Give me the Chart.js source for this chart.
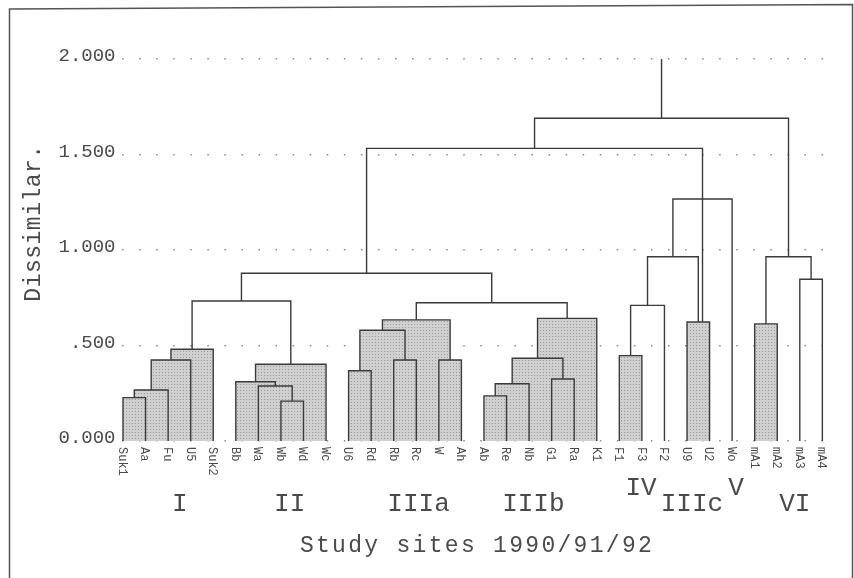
<!DOCTYPE html>
<html>
<head>
<meta charset="utf-8">
<script src="https://cdn.jsdelivr.net/npm/chart.js@4/dist/chart.umd.min.js"></script>
<style>
  html, body { margin: 0; padding: 0; background: #fff; }
  #wrap { width: 854px; height: 578px; position: relative; }
</style>
</head>
<body>
<div id="wrap"><canvas id="dendro"></canvas></div>
<script>
// study sites, left to right along the bottom
const leaves = ['Suk1', 'Aa', 'Fu', 'U5', 'Suk2', 'Bb', 'Wa', 'Wb', 'Wd', 'Wc',
  'U6', 'Rd', 'Rb', 'Rc', 'W', 'Ah', 'Ab', 'Re', 'Nb', 'G1', 'Ra', 'K1',
  'F1', 'F3', 'F2', 'U9', 'U2', 'Wo', 'mA1', 'mA2', 'mA3', 'mA4'];

// merges: ids below 32 are sites, 32 and up are earlier merges (32 + index)
const mergeA = [0, 32, 33, 34, 7, 6, 5, 38, 35, 10, 12, 14, 41, 44, 16, 46, 19, 47, 49, 45, 40, 22, 53, 25, 54, 56, 52, 28, 30, 59, 58];
const mergeB = [1, 2, 3, 4, 8, 36, 37, 9, 39, 11, 13, 15, 42, 43, 17, 18, 20, 48, 21, 50, 51, 23, 24, 26, 55, 27, 57, 29, 31, 60, 61];
const mergeHeight = [0.227, 0.267, 0.424, 0.480, 0.209, 0.288, 0.310, 0.402, 0.733,
  0.368, 0.424, 0.424, 0.580, 0.634, 0.236, 0.300, 0.325, 0.433, 0.642, 0.724, 0.878,
  0.447, 0.710, 0.623, 0.965, 1.267, 1.532, 0.613, 0.847, 0.965, 1.690];

const groupNames = ['I', 'II', 'IIIa', 'IIIb', 'IV', 'IIIc', 'V', 'VI'];
const yTicks = [0, 0.5, 1, 1.5, 2];
const yTickLabels = ['0.000', '.500', '1.000', '1.500', '2.000'];

const shadeBelow = 0.65;               // clusters joined under this level are shaded
const strayLeg = { merge: 26, downTo: 0.623 }; // the plotter ran this leg on down to the U9/U2 box

const ink = '#3a3a3a';
const textInk = '#4a4a4a';
const font = '"Liberation Mono", "DejaVu Sans Mono", monospace';

function halftone() {
  const c = document.createElement('canvas');
  c.width = 3; c.height = 3;
  const g = c.getContext('2d');
  g.fillStyle = '#d0d0d0';
  g.fillRect(0, 0, 3, 3);
  g.fillStyle = '#9a9a9a';
  g.fillRect(0, 0, 1, 1);
  return g.createPattern(c, 'repeat');
}
const shade = halftone();

// x position and height of every node
const pos = leaves.map((_, i) => i);
const lvl = leaves.map(() => 0);
mergeHeight.forEach((h, k) => {
  pos.push((pos[mergeA[k]] + pos[mergeB[k]]) / 2);
  lvl.push(h);
});

const fills = [];
const links = [];
mergeHeight.forEach((h, k) => {
  const a = mergeA[k], b = mergeB[k];
  const lowB = k === strayLeg.merge ? strayLeg.downTo : lvl[b];
  links.push({
    data: [{ x: pos[a], y: lvl[a] }, { x: pos[a], y: h }, { x: pos[b], y: h }, { x: pos[b], y: lowB }],
    borderColor: ink, borderWidth: 1.4, pointRadius: 0, fill: false, tension: 0
  });
  if (h < shadeBelow) {
    fills.push({
      data: [{ x: pos[a], y: 0 }, { x: pos[a], y: h }, { x: pos[b], y: h }, { x: pos[b], y: 0 }],
      borderWidth: 0, backgroundColor: shade, pointRadius: 0, fill: 'origin', tension: 0
    });
  }
});
// stub above the root
const root = pos.length - 1;
links.push({
  data: [{ x: pos[root], y: lvl[root] }, { x: pos[root], y: yTicks[yTicks.length - 1] }],
  borderColor: ink, borderWidth: 1.4, pointRadius: 0, fill: false
});

const annotate = {
  id: 'annotate',
  afterDraw(chart) {
    const { ctx, scales: { x, y } } = chart;
    const base = y.getPixelForValue(0);
    ctx.save();
    ctx.fillStyle = textInk;

    // site names, turned clockwise
    ctx.font = '12px ' + font;
    ctx.textAlign = 'left';
    ctx.textBaseline = 'middle';
    leaves.forEach((name, i) => {
      ctx.save();
      ctx.translate(x.getPixelForValue(i) - 1, base + 6);
      ctx.rotate(Math.PI / 2);
      ctx.fillText(name, 0, 0);
      ctx.restore();
    });

    // group labels
    const groupAt = [2.52, 7.39, 13.1, 18.19, 22.96, 25.22, 27.17, 29.78];
    const raised = [0, 0, 0, 0, 1, 0, 1, 0];
    ctx.font = '26px ' + font;
    ctx.textAlign = 'center';
    ctx.textBaseline = 'alphabetic';
    groupNames.forEach((g, i) => {
      ctx.fillText(g, x.getPixelForValue(groupAt[i]), base + (raised[i] ? 54 : 70));
    });

    // axis titles
    ctx.font = '23px ' + font;
    ctx.letterSpacing = '2.3px';
    ctx.fillText('Study sites 1990/91/92', 477, 552);
    ctx.letterSpacing = '0.5px';
    ctx.save();
    ctx.translate(40, 223);
    ctx.rotate(-Math.PI / 2);
    ctx.fillText('Dissimilar.', 0, 0);
    ctx.restore();
    ctx.letterSpacing = '0px';

    // page frame
    ctx.strokeStyle = '#555';
    ctx.lineWidth = 1.5;
    ctx.beginPath();
    ctx.moveTo(9.5, 578);
    ctx.lineTo(9.5, 9);
    ctx.lineTo(852.5, 4.5);
    ctx.lineTo(852.5, 578);
    ctx.stroke();
    ctx.restore();
  }
};

new Chart(document.getElementById('dendro'), {
  type: 'line',
  data: { datasets: [...links, ...fills] },
  options: {
    responsive: true,
    maintainAspectRatio: false,
    animation: false,
    events: [],
    layout: { padding: { left: 0, right: 26, top: 59, bottom: 137 } },
    plugins: {
      legend: { display: false },
      tooltip: { enabled: false },
      filler: { drawTime: 'beforeDatasetsDraw' }
    },
    scales: {
      x: { type: 'linear', display: false, min: -0.2, max: 31.25 },
      y: {
        min: 0, max: 2,
        afterFit(scale) { scale.width = 118.5; },
        afterBuildTicks(scale) { scale.ticks = yTicks.map(v => ({ value: v })); },
        ticks: {
          padding: 3,
          labelOffset: -3,
          color: textInk,
          font: { family: font, size: 19 },
          callback: v => yTickLabels[yTicks.indexOf(v)]
        },
        grid: { color: '#8a8a8a', lineWidth: 1.5, drawTicks: false },
        border: { display: false, dash: [1.5, 15.56], dashOffset: 14 }
      }
    }
  },
  plugins: [annotate]
});
</script>
</body>
</html>
